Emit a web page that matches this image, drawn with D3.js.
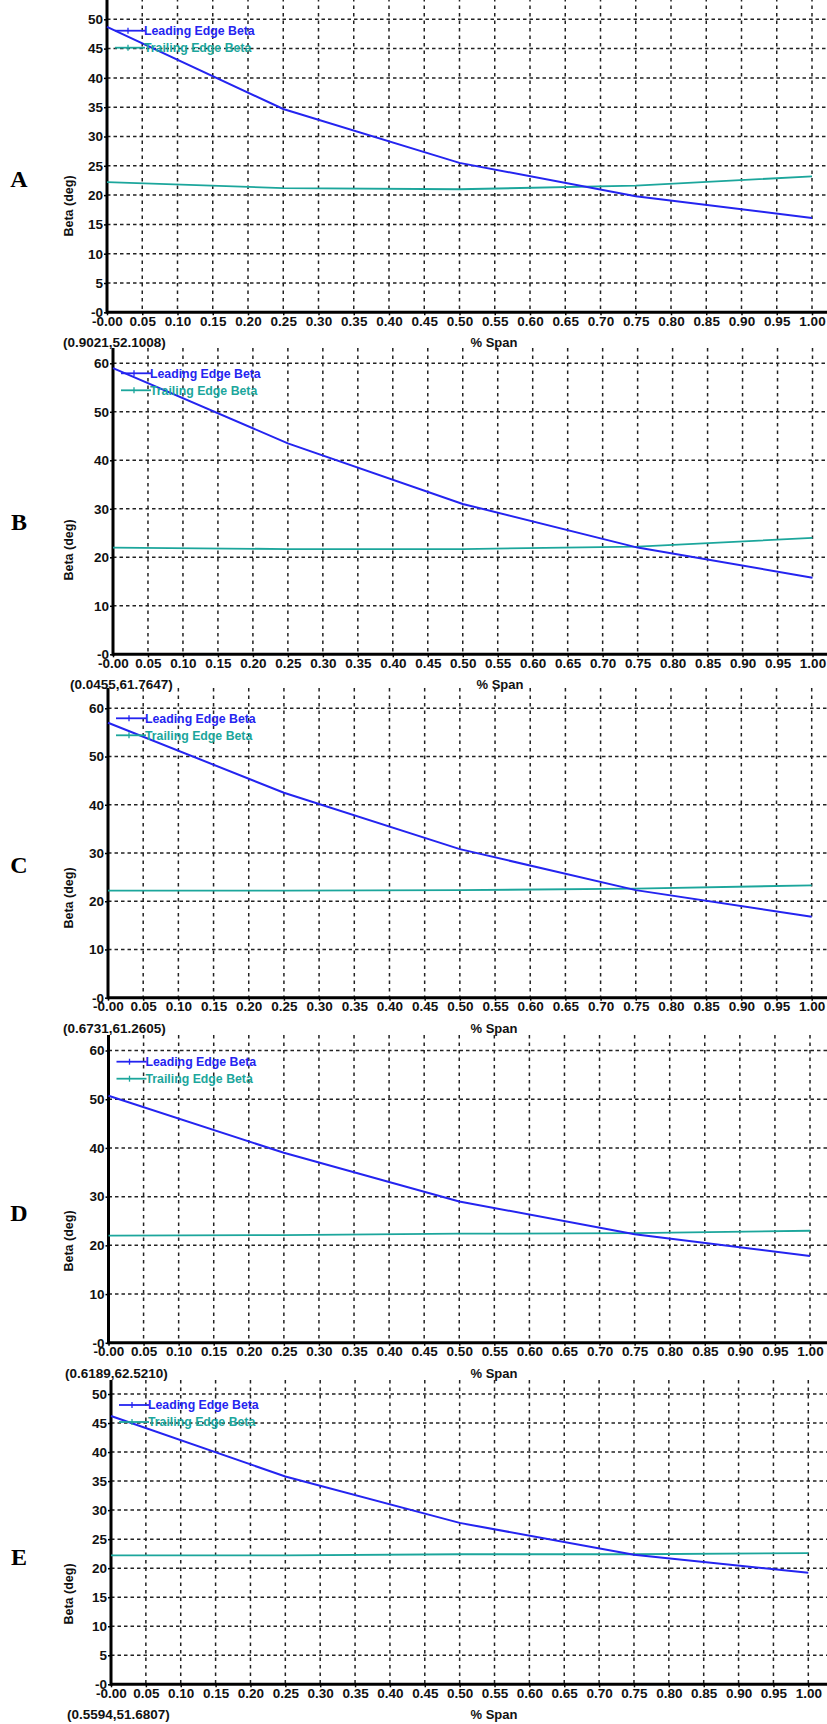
<!DOCTYPE html>
<html><head><meta charset="utf-8">
<script src="https://cdn.jsdelivr.net/npm/d3@7"></script>
<style>
html,body{margin:0;padding:0;background:#fff;}
svg{display:block;}
</style></head>
<body>
<svg id="chart" width="827" height="1724" font-family="Liberation Sans, Arial, sans-serif"></svg>
<script>
// ---------- DATA ----------
const spans = [0, 0.25, 0.5, 0.75, 1.0];
const leadingA = [48.7, 34.7, 25.5, 19.8, 16.1];
const trailingA = [22.2, 21.2, 21.0, 21.6, 23.2];
const leadingB = [59.0, 43.5, 31.0, 22.0, 15.8];
const trailingB = [22.0, 21.7, 21.7, 22.2, 24.0];
const leadingC = [57.0, 42.5, 30.8, 22.3, 16.8];
const trailingC = [22.2, 22.2, 22.3, 22.6, 23.3];
const leadingD = [50.7, 39.0, 29.0, 22.3, 17.8];
const trailingD = [22.0, 22.1, 22.4, 22.5, 23.0];
const leadingE = [46.2, 35.8, 27.8, 22.3, 19.2];
const trailingE = [22.2, 22.2, 22.4, 22.4, 22.6];

const xTicks = [0,0.05,0.1,0.15,0.2,0.25,0.3,0.35,0.4,0.45,0.5,0.55,0.6,0.65,0.7,0.75,0.8,0.85,0.9,0.95,1.0];
const xTickLabels = ["-0.00","0.05","0.10","0.15","0.20","0.25","0.30","0.35","0.40","0.45","0.50","0.55","0.60","0.65","0.70","0.75","0.80","0.85","0.90","0.95","1.00"];
const yTicks50 = [0,5,10,15,20,25,30,35,40,45,50];
const yTickLabels50 = ["-0","5","10","15","20","25","30","35","40","45","50"];
const yTicks60 = [0,10,20,30,40,50,60];
const yTickLabels60 = ["-0","10","20","30","40","50","60"];
const panelNames = ["A","B","C","D","E"];
const coordLabels = ["(0.9021,52.1008)","(0.0455,61.7647)","(0.6731,61.2605)","(0.6189,62.5210)","(0.5594,51.6807)"];
const seriesNames = ["Leading Edge Beta","Trailing Edge Beta"];
const xTitle = "% Span";
const yTitle = "Beta (deg)";

// ---------- LAYOUT ----------
const layout = [
  {left:107, right:812, axisY:312.3, topY:-2, refVal:50, refY:19.3, lead:leadingA, trail:trailingA, yt:yTicks50, ytl:yTickLabels50, legY:30.7, coordX:63, spanX:494, yTitleY:206, nameY:178},
  {left:113, right:812.5, axisY:654.3, topY:348, refVal:60, refY:363.3, lead:leadingB, trail:trailingB, yt:yTicks60, ytl:yTickLabels60, legY:373.3, coordX:70, spanX:500, yTitleY:550, nameY:521},
  {left:108, right:811.7, axisY:997.7, topY:688, refVal:60, refY:708.3, lead:leadingC, trail:trailingC, yt:yTicks60, ytl:yTickLabels60, legY:718.3, coordX:63, spanX:494, yTitleY:898, nameY:864},
  {left:108.5, right:810, axisY:1342.8, topY:1035, refVal:60, refY:1050.5, lead:leadingD, trail:trailingD, yt:yTicks60, ytl:yTickLabels60, legY:1061.7, coordX:65, spanX:494, yTitleY:1241, nameY:1212},
  {left:111, right:808.3, axisY:1684.3, topY:1380, refVal:50, refY:1394, lead:leadingE, trail:trailingE, yt:yTicks50, ytl:yTickLabels50, legY:1405, coordX:67, spanX:494, yTitleY:1594, nameY:1556}
];
const W = 827;
const SANS = "Liberation Sans, Arial, sans-serif";
const SERIF = "Liberation Serif, Times New Roman, serif";
const leadColor = "#2424f0";
const trailColor = "#1ca69c";
const gridColor = "#222";

const svg = d3.select("#chart");
svg.append("rect").attr("width",827).attr("height",1724).attr("fill","#fff");

layout.forEach((p, pi) => {
  const g = svg.append("g");
  const x = d3.scaleLinear().domain([0,1]).range([p.left, p.right]);
  const y = d3.scaleLinear().domain([0,p.refVal]).range([p.axisY, p.refY]);

  // horizontal grid
  g.selectAll(".hg").data(p.yt.filter(d=>d>0)).join("line")
    .attr("x1", p.left).attr("x2", W)
    .attr("y1", d=>y(d)).attr("y2", d=>y(d))
    .attr("stroke", gridColor).attr("stroke-width",1.5).attr("stroke-dasharray","3.5,3");
  // vertical grid
  g.selectAll(".vg").data(xTicks.filter(d=>d>0)).join("line")
    .attr("x1", d=>x(d)).attr("x2", d=>x(d))
    .attr("y1", p.topY).attr("y2", p.axisY)
    .attr("stroke", gridColor).attr("stroke-width",1.5).attr("stroke-dasharray","3.5,4");

  // x axis
  const xAxis = d3.axisBottom(x).tickValues(xTicks)
    .tickFormat((d,i)=>xTickLabels[i]).tickSize(3).tickPadding(3);
  const xa = g.append("g").attr("transform",`translate(0,${p.axisY})`).call(xAxis);
  xa.select(".domain").remove();
  xa.selectAll("line").attr("stroke","#000").attr("stroke-width",1.5);
  xa.selectAll("text").style("font-family", SANS)
    .style("font-size","13.5px").style("font-weight","bold").attr("fill","#111").attr("dy","0.55em");

  // y axis
  const yAxis = d3.axisLeft(y).tickValues(p.yt)
    .tickFormat((d,i)=>p.ytl[i]).tickSize(3).tickPadding(1);
  const ya = g.append("g").attr("transform",`translate(${p.left},0)`).call(yAxis);
  ya.select(".domain").remove();
  ya.selectAll("line").attr("stroke","#000").attr("stroke-width",1.5);
  ya.selectAll("text").style("font-family", SANS)
    .style("font-size","13.5px").style("font-weight","bold").attr("fill","#111");

  // axis lines
  g.append("line").attr("x1", p.left).attr("x2", W).attr("y1", p.axisY).attr("y2", p.axisY)
    .attr("stroke","#000").attr("stroke-width",3);
  g.append("line").attr("x1", p.left).attr("x2", p.left).attr("y1", p.topY).attr("y2", p.axisY+1.5)
    .attr("stroke","#000").attr("stroke-width",3);

  // series
  const line = d3.line().x((d,i)=>x(spans[i])).y(d=>y(d));
  g.append("path").datum(p.trail).attr("d", line).attr("fill","none")
    .attr("stroke", trailColor).attr("stroke-width",1.8);
  g.append("path").datum(p.lead).attr("d", line).attr("fill","none")
    .attr("stroke", leadColor).attr("stroke-width",2);

  // legend
  const colors = [leadColor, trailColor];
  seriesNames.forEach((name, k) => {
    const ly = p.legY + k*17;
    g.append("line").attr("x1", p.left+8).attr("x2", p.left+38).attr("y1", ly).attr("y2", ly)
      .attr("stroke", colors[k]).attr("stroke-width",1.8);
    g.append("line").attr("x1", p.left+21).attr("x2", p.left+21).attr("y1", ly-3).attr("y2", ly+3)
      .attr("stroke", colors[k]).attr("stroke-width",1.3);
    g.append("text").attr("x", p.left+37).attr("y", ly).attr("dy","0.36em")
      .style("font-family", SANS).style("font-size","12.3px").style("font-weight","bold")
      .attr("fill", colors[k]).text(name);
  });

  // coordinate readout and x title
  g.append("text").attr("x", p.coordX).attr("y", p.axisY+35)
    .style("font-family", SANS).style("font-size","13.5px").style("font-weight","bold")
    .attr("fill","#111").text(coordLabels[pi]);
  g.append("text").attr("x", p.spanX).attr("y", p.axisY+35).attr("text-anchor","middle")
    .style("font-family", SANS).style("font-size","13px").style("font-weight","bold")
    .attr("fill","#111").text(xTitle);

  // y title
  g.append("text").attr("transform",`translate(68,${p.yTitleY}) rotate(-90)`)
    .attr("text-anchor","middle").attr("dy","0.36em")
    .style("font-family", SANS).style("font-size","12.5px").style("font-weight","bold")
    .attr("fill","#111").text(yTitle);

  // panel name
  g.append("text").attr("x", 19).attr("y", p.nameY).attr("text-anchor","middle").attr("dy","0.36em")
    .style("font-family", SERIF).style("font-size","24px").style("font-weight","bold")
    .attr("fill","#000").text(panelNames[pi]);
});
</script>
</body></html>
